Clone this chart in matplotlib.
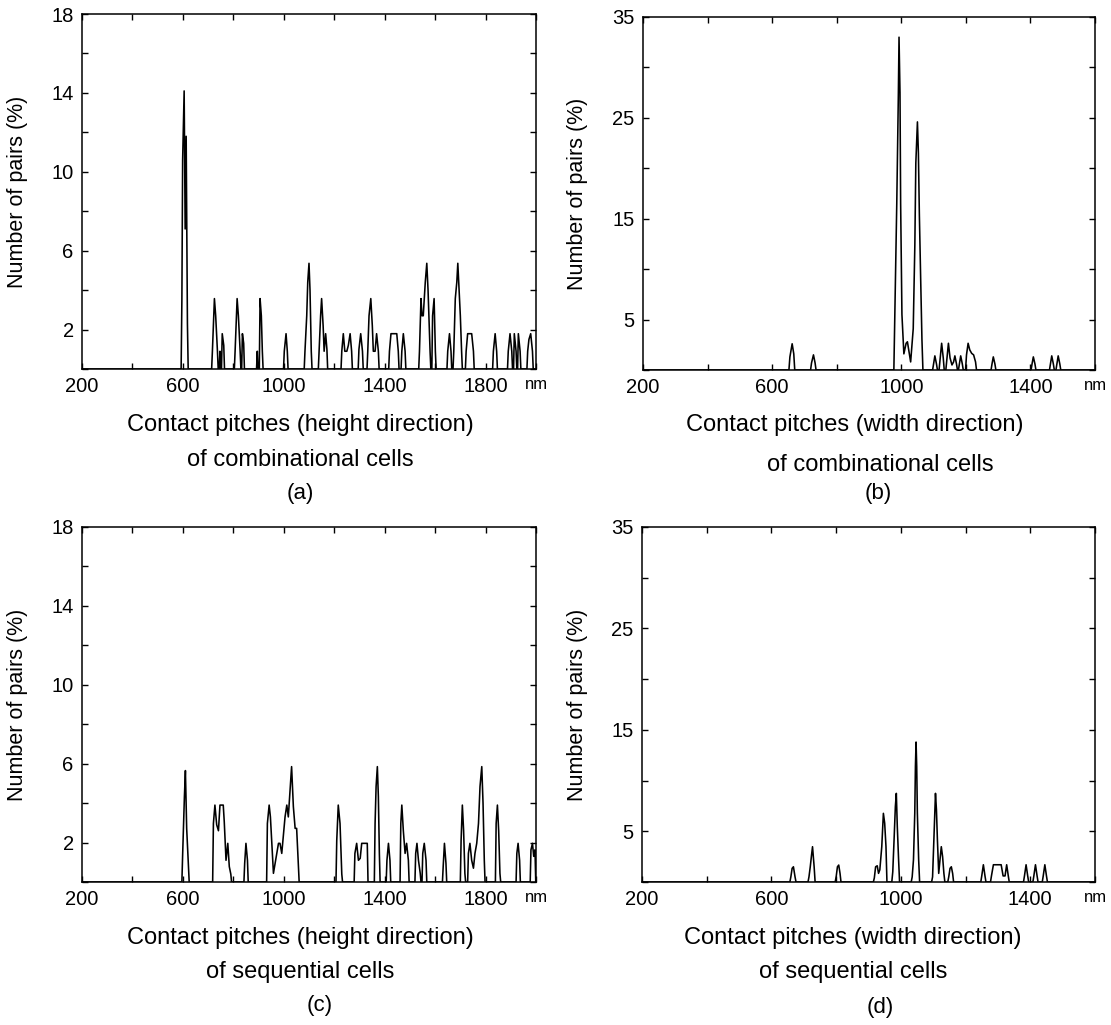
import numpy as np
import matplotlib
matplotlib.use("Agg")
import matplotlib.pyplot as plt

plt.rcParams['font.family'] = ['Liberation Sans', 'DejaVu Sans']

# (a) height direction, combinational cells: pitch (nm) -> pairs (%)
pitch_a = [596, 599, 605, 609, 613, 618,
           717, 725, 730, 737, 747, 756, 762,
           807, 815, 820, 827, 836, 841,
           895, 906, 911, 915,
           1002, 1009, 1014,
           1084, 1091, 1095, 1100, 1104, 1109,
           1140, 1146, 1150, 1156, 1160, 1166, 1171,
           1230, 1236, 1242, 1250, 1256, 1263, 1269,
           1298, 1305, 1312,
           1333, 1338, 1345, 1351, 1355, 1362, 1368, 1375,
           1419, 1425, 1431, 1437, 1443, 1448, 1454,
           1468, 1474, 1481,
           1538, 1544, 1548, 1553, 1561, 1567, 1572, 1580, 1590, 1596, 1601,
           1650, 1657, 1663,
           1674, 1680, 1686, 1690, 1695, 1700, 1705,
           1723, 1729, 1735, 1740, 1745, 1752,
           1831, 1838, 1844,
           1890, 1897, 1904, 1914, 1921, 1930, 1937,
           1967, 1972, 1979, 1986]
pct_a = [3.5, 10.6, 14.1, 7.1, 11.8, 2.3,
         0.9, 3.57, 2.7, 0.9, 0.9, 1.79, 1.2,
         0.9, 3.57, 2.7, 0.9, 1.79, 1.3,
         0.9, 3.57, 2.7, 0.9,
         0.9, 1.79, 0.9,
         0.9, 2.7, 4.4, 5.36, 4.0, 0.9,
         0.9, 2.7, 3.57, 2.2, 0.9, 1.79, 1.0,
         0.9, 1.79, 0.9, 0.9, 1.2, 1.79, 0.9,
         1.0, 1.79, 0.9,
         0.9, 2.7, 3.57, 2.2, 0.9, 0.9, 1.79, 0.9,
         0.9, 1.79, 1.79, 1.79, 1.79, 1.79, 0.9,
         0.9, 1.79, 0.9,
         0.9, 3.57, 2.7, 2.7, 4.4, 5.36, 4.0, 0.9, 2.7, 3.57, 0.9,
         0.9, 1.79, 0.9,
         0.9, 3.57, 4.4, 5.36, 4.0, 2.7, 0.9,
         0.9, 1.79, 1.79, 1.79, 1.79, 0.9,
         0.9, 1.79, 0.9,
         0.9, 1.79, 0.9, 1.79, 0.9, 1.79, 0.9,
         0.9, 1.5, 1.79, 0.9]

# (b) width direction, combinational cells
pitch_b = [655, 662, 667,
           722, 728, 733,
           980, 986, 991, 993, 996, 998, 1002,
           1008, 1015, 1019, 1023, 1029,
           1037, 1042, 1045, 1050, 1053, 1056, 1060, 1064,
           1100, 1104, 1109,
           1120, 1125, 1130,
           1141, 1146, 1151, 1157, 1162, 1166, 1171,
           1180, 1184, 1189,
           1202, 1207, 1212, 1218, 1224, 1230,
           1281, 1285, 1290,
           1405, 1409, 1414,
           1462, 1466, 1471, 1482, 1486, 1491]
pct_b = [1.3, 2.6, 1.6,
         0.7, 1.5, 0.7,
         5.5, 16.5, 27.5, 33.0, 27.5, 16.5, 5.5,
         1.6, 2.65, 2.8, 2.0, 0.8,
         4.1, 12.4, 20.5, 24.6, 21.5, 15.4, 9.1, 3.0,
         0.6, 1.4, 0.6,
         1.0, 2.65, 1.2,
         1.0, 2.65, 1.2, 0.5, 0.8, 1.4, 0.6,
         0.6, 1.4, 0.6,
         1.5, 2.65, 2.0, 1.65, 1.5, 0.8,
         0.6, 1.3, 0.6,
         0.6, 1.3, 0.6,
         0.6, 1.4, 0.6, 0.6, 1.4, 0.6]

# (c) height direction, sequential cells
pitch_c = [599, 606, 610, 615, 622,
           721, 727, 734, 741, 747, 754, 760, 764, 771, 778, 784, 790,
           845, 850, 856,
           935, 942, 947, 952, 959, 965, 972, 979, 985, 992, 998, 1005,
           1012, 1018, 1025, 1031, 1038, 1045, 1051, 1058,
           1210, 1216, 1223, 1230,
           1282, 1289, 1296, 1303, 1309, 1315, 1321, 1327, 1331,
           1362, 1366, 1371, 1375, 1379,
           1409, 1415, 1421,
           1464, 1468, 1474, 1481, 1487, 1494,
           1523, 1528, 1534, 1541, 1551, 1557, 1564,
           1632, 1637, 1643,
           1703, 1708, 1713, 1718,
           1732, 1738, 1745, 1752, 1758, 1765, 1772, 1778, 1785, 1790, 1795,
           1842, 1847, 1852, 1857,
           1924, 1929, 1935,
           1980, 1986, 1991, 1996]
pct_c = [1.37, 4.33, 5.65, 2.72, 0.78,
         2.97, 3.9, 2.9, 2.6, 3.9, 3.9, 3.9, 3.06, 1.1, 1.96, 0.78, 0.4,
         0.95, 1.96, 1.1,
         2.97, 3.9, 3.3, 2.1, 0.44, 0.9, 1.45, 1.96, 1.96, 1.45, 2.3, 3.3,
         3.9, 3.3, 4.67, 5.85, 3.82, 2.72, 2.72, 0.78,
         2.1, 3.9, 2.97, 0.4,
         1.45, 1.96, 1.1, 1.2, 1.96, 1.96, 1.96, 1.96, 1.96,
         2.97, 4.84, 5.85, 4.33, 1.45,
         1.1, 1.96, 1.1,
         2.97, 3.9, 2.6, 1.45, 1.96, 1.1,
         1.45, 1.96, 1.1, 0.44, 1.45, 1.96, 1.1,
         0.78, 1.96, 0.95,
         2.1, 3.9, 2.6, 0.44,
         1.45, 1.96, 1.1, 0.7, 1.45, 1.96, 2.97, 4.84, 5.85, 4.0, 1.1,
         2.97, 3.9, 2.6, 0.44,
         1.45, 1.96, 1.1,
         1.63, 1.96, 1.3, 1.63]

# (d) width direction, sequential cells
pitch_d = [660, 664, 668, 673,
           716, 720, 724, 727, 732,
           800, 804, 808, 812,
           918, 922, 927, 931, 935, 941, 946, 950, 954,
           975, 979, 983, 986, 989, 993,
           1035, 1039, 1043, 1045, 1047, 1049, 1051, 1055,
           1098, 1102, 1107, 1110, 1113, 1117, 1121, 1125, 1129, 1133,
           1148, 1152, 1156, 1160,
           1250, 1255, 1260,
           1280, 1286, 1292, 1298, 1304, 1310, 1316, 1322, 1327, 1332,
           1382, 1387, 1392,
           1411, 1416, 1421,
           1440, 1445, 1450]
pct_d = [0.5, 1.35, 1.5, 0.5,
         0.5, 1.5, 2.66, 3.48, 1.5,
         0.5, 1.5, 1.67, 0.85,
         0.4, 1.5, 1.6, 0.85, 1.2, 3.48, 6.77, 5.8, 3.5,
         1.0, 4.14, 7.43, 8.74, 5.46, 2.2,
         0.5, 2.2, 6.8, 11.4, 13.8, 11.4, 6.8, 2.2,
         0.5, 4.14, 8.74, 7.1, 4.14, 0.85, 2.2, 3.48, 2.5, 0.85,
         0.5, 1.35, 1.5, 0.85,
         0.6, 1.7, 0.6,
         0.6, 1.7, 1.7, 1.7, 1.7, 1.7, 0.6, 0.6, 1.7, 0.6,
         0.6, 1.7, 0.6,
         0.6, 1.7, 0.6,
         0.6, 1.7, 0.6]

xlabels = ["Contact pitches (height direction)\nof combinational cells",
           "Contact pitches (width direction)\nof combinational cells",
           "Contact pitches (height direction)\nof sequential cells",
           "Contact pitches (width direction)\nof sequential cells"]
tags = ["(a)", "(b)", "(c)", "(d)"]


def trace(pitch, pct, xmin, xmax, hw=3, gap=8):
    # zero baseline between groups of close samples
    xs, ys = [xmin], [0]
    for i, (p, v) in enumerate(zip(pitch, pct)):
        if i == 0 or p - pitch[i - 1] > gap:
            if i > 0:
                xs.append(pitch[i - 1] + hw)
                ys.append(0)
            xs.append(p - hw)
            ys.append(0)
        xs.append(p)
        ys.append(v)
    xs += [pitch[-1] + hw, xmax]
    ys += [0, 0]
    return xs, ys


W, H = 1111, 1025
fig = plt.figure(figsize=(W / 100, H / 100), dpi=100)

# axes boxes in pixels: left, top, right, bottom
boxes = [(82, 14, 536, 369), (643, 17, 1095, 370),
         (82, 527, 536, 882), (642, 527, 1095, 882)]
xlims = [(200, 2000), (200, 1600), (200, 2000), (200, 1600)]
ymax = [18, 35, 18, 35]
ystep = [2, 5, 2, 5]
ylab = [[2, 6, 10, 14, 18], [5, 15, 25, 35], [2, 6, 10, 14, 18], [5, 15, 25, 35]]
series = [(pitch_a, pct_a), (pitch_b, pct_b), (pitch_c, pct_c), (pitch_d, pct_d)]
# label text centres in pixels: (x, y line1, y line2, tag x, tag y)
label_pos = [(300, 425, 460, 300, 493), (855, 425, 465, 878, 493),
             (300, 938, 972, 320, 1005), (853, 938, 972, 880, 1008)]

for k in range(4):
    l, t, r, b = boxes[k]
    ax = fig.add_axes([l / W, 1 - b / H, (r - l) / W, (b - t) / H])
    x0, x1 = xlims[k]
    xs, ys = trace(series[k][0], series[k][1], x0, x1)
    ax.plot(xs, ys, color="black", lw=1.15)
    ax.set_xlim(x0, x1)
    ax.set_ylim(0, ymax[k])

    xt = np.arange(x0, x1 + 1, 200)
    ax.set_xticks(xt)
    lbls = []
    for i, v in enumerate(xt):
        if v == x1:
            lbls.append("nm")
        elif i % 2 == 0:
            lbls.append(str(v))
        else:
            lbls.append("")
    ax.set_xticklabels(lbls)

    yt = np.arange(0, ymax[k] + 1, ystep[k])
    ax.set_yticks(yt)
    ax.set_yticklabels([str(v) if v in ylab[k] else "" for v in yt])

    ax.tick_params(direction="in", length=4, width=1, top=True, right=True,
                   labelsize=14.5, pad=6, colors="black")
    nm = ax.get_xticklabels()[-1]
    nm.set_fontsize(12)
    nm.set_horizontalalignment("center")
    for s in ax.spines.values():
        s.set_linewidth(1.1)

    ax.set_ylabel("Number of pairs (%)", fontsize=15.5)
    ax.yaxis.set_label_coords((28 - l) / (r - l) if k % 2 == 0 else (588 - l) / (r - l), 0.5)

    cx, y1, y2, tx, ty = label_pos[k]
    line1, line2 = xlabels[k].split("\n")
    fig.text(cx / W, 1 - y1 / H, line1, ha="center", va="center", fontsize=17)
    if k == 1:
        fig.text(880 / W, 1 - y2 / H, line2, ha="center", va="center", fontsize=17)
    else:
        fig.text(cx / W, 1 - y2 / H, line2, ha="center", va="center", fontsize=17)
    fig.text(tx / W, 1 - ty / H, tags[k], ha="center", va="center", fontsize=16)

plt.savefig("out.png", dpi=100)
